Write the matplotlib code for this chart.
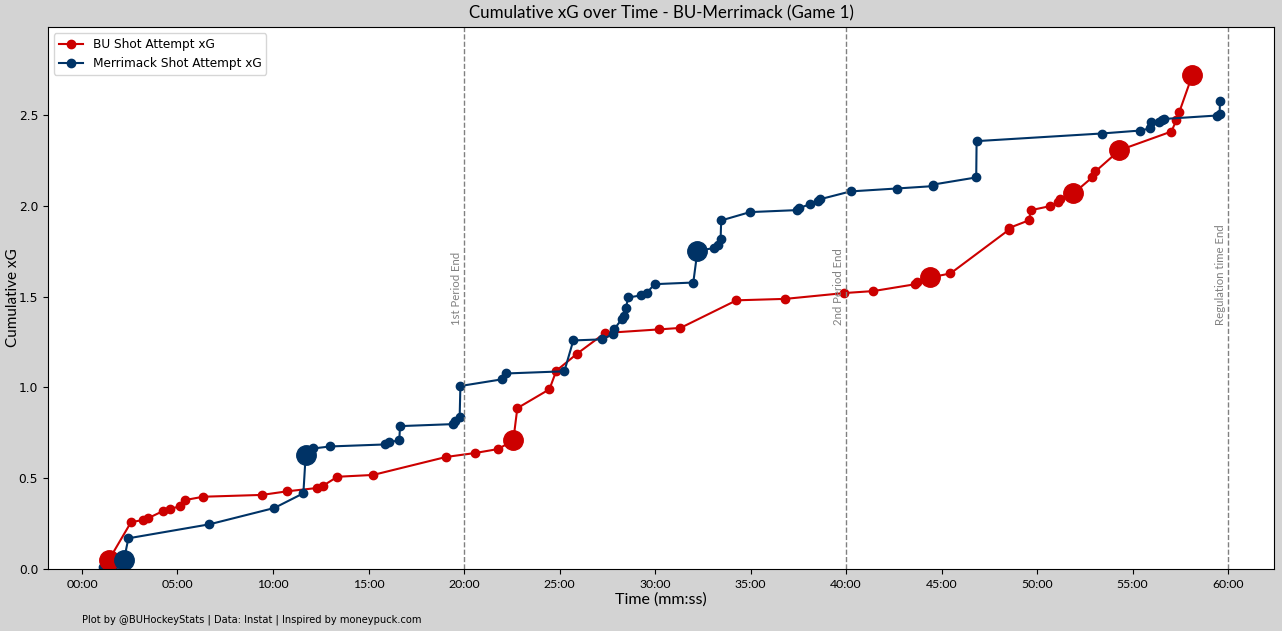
import matplotlib
matplotlib.use('Agg')
import matplotlib.pyplot as plt
from matplotlib.ticker import FuncFormatter, MultipleLocator

# time of each shot attempt (minutes) and cumulative xG after it
bu_time = [1.41, 2.57, 3.21, 3.47, 4.26, 4.62, 5.15, 5.41, 6.35, 9.42, 10.75, 12.3, 12.6,
           13.37, 15.24, 19.06, 20.59, 21.8, 22.58, 22.79, 24.47, 24.83, 25.93, 27.38,
           30.23, 31.33, 34.26, 36.82, 39.9, 41.43, 43.58, 43.73, 44.4, 45.46, 48.5,
           48.52, 49.55, 49.69, 50.68, 51.08, 51.17, 51.9, 52.88, 53.05, 54.31, 57.03,
           57.29, 57.45, 58.12]
bu_xg = [0.05, 0.258, 0.27, 0.28, 0.32, 0.33, 0.347, 0.38, 0.398, 0.408, 0.428, 0.446,
         0.457, 0.508, 0.518, 0.617, 0.639, 0.661, 0.71, 0.886, 0.99, 1.092, 1.187, 1.30,
         1.32, 1.328, 1.48, 1.488, 1.52, 1.531, 1.568, 1.579, 1.606, 1.628, 1.867,
         1.878, 1.92, 1.977, 1.999, 2.019, 2.036, 2.069, 2.157, 2.19, 2.307, 2.41,
         2.474, 2.52, 2.72]
bu_goal_time = [1.41, 22.58, 44.4, 51.9, 54.31, 58.12]
bu_goal_xg = [0.05, 0.71, 1.606, 2.069, 2.307, 2.72]

mer_time = [1.12, 1.64, 2.2, 2.43, 6.67, 10.07, 11.59, 11.71, 12.11, 13.0, 15.86, 16.06,
            16.61, 16.65, 19.42, 19.53, 19.77, 19.81, 22.0, 22.2, 25.25, 25.72, 27.24,
            27.82, 27.85, 28.25, 28.38, 28.46, 28.6, 29.27, 29.56, 29.97, 32.0, 32.22,
            33.1, 33.28, 33.43, 33.46, 34.97, 37.43, 37.54, 38.12, 38.53, 38.64, 40.23,
            42.64, 44.54, 44.57, 46.81, 46.83, 53.37, 55.36, 55.92, 55.97, 56.4, 56.53,
            56.62, 59.39, 59.55, 59.57]
mer_xg = [0.01, 0.016, 0.05, 0.169, 0.246, 0.336, 0.417, 0.626, 0.664, 0.675, 0.686,
          0.698, 0.709, 0.787, 0.798, 0.817, 0.835, 1.008, 1.045, 1.077, 1.089, 1.259,
          1.265, 1.296, 1.32, 1.375, 1.393, 1.435, 1.496, 1.507, 1.52, 1.569, 1.578,
          1.753, 1.768, 1.784, 1.817, 1.92, 1.966, 1.977, 1.988, 2.01, 2.026, 2.037,
          2.08, 2.096, 2.109, 2.118, 2.157, 2.357, 2.399, 2.415, 2.427, 2.46, 2.465,
          2.472, 2.479, 2.498, 2.509, 2.577]
mer_goal_time = [2.2, 11.71, 32.22]
mer_goal_xg = [0.05, 0.626, 1.753]

period_ends = [20, 40, 60]
period_labels = ['1st Period End', '2nd Period End', 'Regulation time End']

bu_color = '#cc0000'
mer_color = '#003366'
title_font = 'Lato'

fig = plt.figure(figsize=(12.82, 6.31), dpi=100, facecolor='lightgray')
ax = fig.add_axes([0.0374, 0.0983, 0.9564, 0.8587])

ax.plot(bu_time, bu_xg, color=bu_color, marker='o', markersize=6, linewidth=1.5,
        label='BU Shot Attempt xG')
ax.plot(mer_time, mer_xg, color=mer_color, marker='o', markersize=6, linewidth=1.5,
        label='Merrimack Shot Attempt xG')
# goals drawn as big dots
ax.plot(bu_goal_time, bu_goal_xg, 'o', color=bu_color, markersize=14)
ax.plot(mer_goal_time, mer_goal_xg, 'o', color=mer_color, markersize=14)

for t, lab in zip(period_ends, period_labels):
    ax.axvline(t, color='gray', linestyle='--', linewidth=1)
    ax.text(t - 0.1, 1.345, lab, rotation=90, color='gray', ha='right', va='bottom',
            fontsize=8.2, family=title_font)

ax.set_xlim(-1.78, 62.4)
ax.set_ylim(0, 2.985)
ax.xaxis.set_major_locator(MultipleLocator(5))
ax.xaxis.set_major_formatter(FuncFormatter(lambda v, p: '%02d:%02d' % (int(v), round((v - int(v)) * 60))))
ax.tick_params(labelsize=8.8)
for lbl in ax.get_xticklabels():
    lbl.set_family(title_font)

ax.set_title('Cumulative xG over Time - BU-Merrimack (Game 1)', fontsize=12.2, family=title_font)
ax.set_xlabel('Time (mm:ss)', fontsize=11.5, family=title_font, labelpad=2)
ax.set_ylabel('Cumulative xG', fontsize=11, family=title_font, labelpad=-1)
ax.legend(loc='upper left', fontsize=8.7)

fig.text(0.064, 0.013, 'Plot by @BUHockeyStats | Data: Instat | Inspired by moneypuck.com', fontsize=7.15)

plt.savefig('out.png', dpi=100, facecolor=fig.get_facecolor())
